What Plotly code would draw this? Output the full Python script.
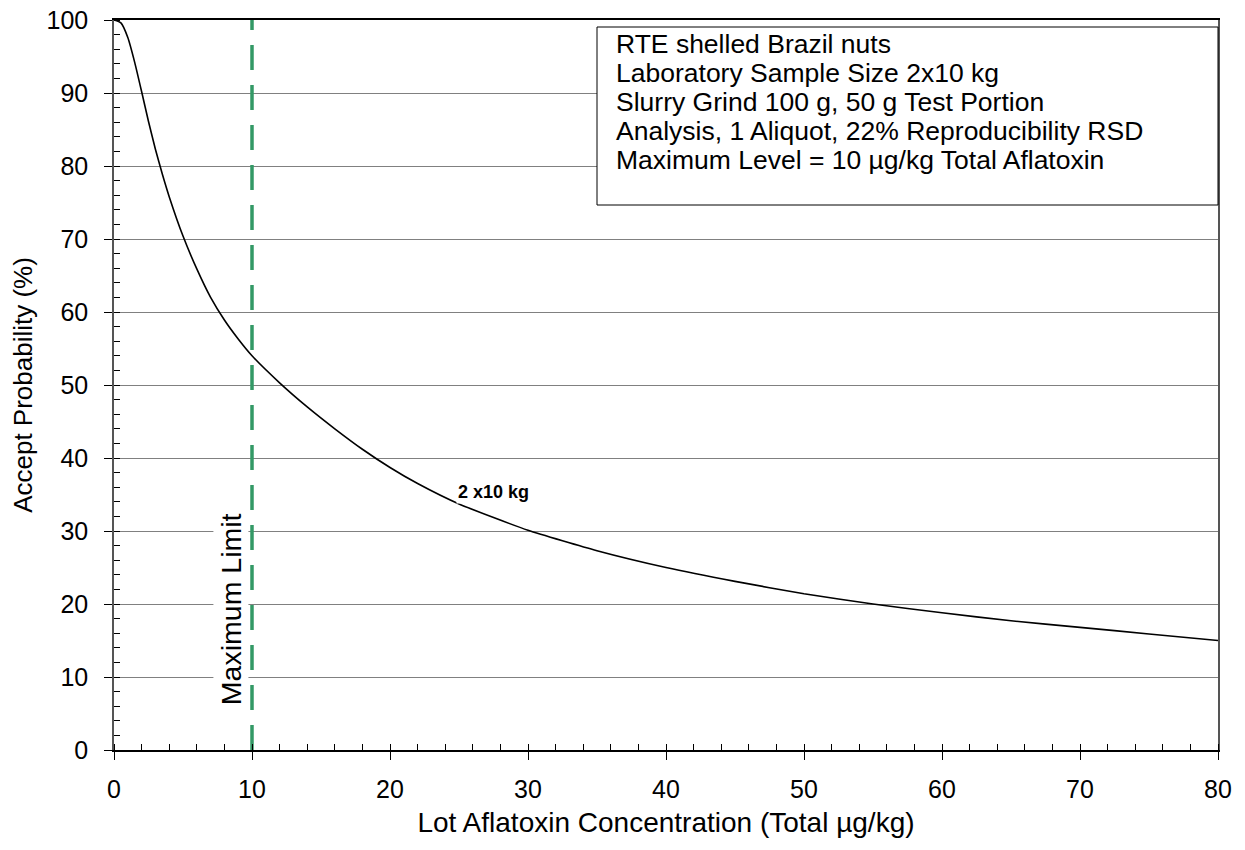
import plotly.graph_objects as go

conc = [0, 0.5, 1, 1.5, 2, 2.5, 3, 3.5, 4, 5, 6, 7, 8, 9, 10, 12, 14, 16, 18, 20, 22, 25,
        30, 35, 40, 45, 50, 55, 60, 65, 70, 75, 80]
accept = [100, 99.6, 97.6, 94.2, 90.2, 86.1, 82.3, 78.9, 75.8, 70.4, 65.9, 62.0, 58.9, 56.3,
          54.0, 50.3, 47.0, 44.0, 41.2, 38.7, 36.5, 33.7, 30.1, 27.3, 25.0, 23.1, 21.4, 20.0,
          18.8, 17.7, 16.8, 15.9, 15.0]
max_limit = 10
x_ticks = [0, 10, 20, 30, 40, 50, 60, 70, 80]
y_ticks = [0, 10, 20, 30, 40, 50, 60, 70, 80, 90, 100]
info_lines = ["RTE shelled Brazil nuts",
              "Laboratory Sample Size 2x10 kg",
              "Slurry Grind 100 g, 50 g Test Portion",
              "Analysis, 1 Aliquot, 22% Reproducibility RSD",
              "Maximum Level = 10 µg/kg Total Aflatoxin"]

FONT = "Liberation Sans, Arial, sans-serif"
L, R, T, B = 114, 27, 20, 100
PW, PH = 1245 - L - R, 850 - T - B


def px_x(p):
    return (p - L) / PW


def px_y(p):
    return (850 - B - p) / PH


fig = go.Figure()
fig.add_trace(go.Scatter(x=conc, y=accept, mode="lines",
                         line=dict(color="black", width=1.6, shape="spline", smoothing=0.5),
                         showlegend=False, hoverinfo="skip"))
fig.add_trace(go.Scatter(x=[max_limit, max_limit], y=[0, 100], mode="lines",
                         line=dict(color="#339966", width=3.5, dash="25px,15px"),
                         showlegend=False, hoverinfo="skip"))

fig.add_annotation(x=27.5, y=35.3, text="<b>2 x10 kg</b>", showarrow=False,
                   font=dict(family=FONT, size=18, color="black"), bgcolor="white")
fig.add_annotation(x=8.48, y=19.3, text="Maximum Limit", showarrow=False, textangle=-90,
                   font=dict(family=FONT, size=28.5, color="black"), bgcolor="white")

fig.add_shape(type="rect", xref="paper", yref="paper", x0=px_x(597), x1=1.0,
              y0=px_y(205), y1=px_y(27), line=dict(color="black", width=1),
              fillcolor="white", layer="above")
for i, line in enumerate(info_lines):
    fig.add_annotation(xref="paper", yref="paper", x=px_x(614), y=px_y(44 + 29 * i),
                       xanchor="left", yanchor="middle", align="left", showarrow=False,
                       text=line, font=dict(family=FONT, size=26.5, color="black"))

fig.update_layout(
    width=1245, height=850,
    margin=dict(l=L, r=R, t=T, b=B),
    plot_bgcolor="white", paper_bgcolor="white",
    font=dict(family=FONT, size=24, color="black"),
    xaxis=dict(range=[0, 80], tickvals=x_ticks, ticks="outside", ticklen=8, tickcolor="black",
               showgrid=False, zeroline=False, showline=True, linecolor="black", linewidth=2,
               mirror=True, automargin=False, ticklabelstandoff=8,
               minor=dict(dtick=2, ticks="inside", ticklen=6, tickcolor="black"),
               title=dict(text="Lot Aflatoxin Concentration (Total µg/kg)", font=dict(size=28),
                          standoff=10),
               tickfont=dict(size=25)),
    yaxis=dict(range=[0, 100], tickvals=y_ticks, ticks="outside", ticklen=8, tickcolor="black",
               showgrid=True, gridcolor="#808080", gridwidth=1.2, zeroline=False,
               showline=True, linecolor="#555555", linewidth=1.5, mirror=True,
               automargin=False, ticklabelstandoff=11,
               minor=dict(dtick=2, ticks="inside", ticklen=6, tickcolor="black"),
               title=dict(text="Accept Probability (%)", font=dict(size=26), standoff=6),
               tickfont=dict(size=25)),
)
fig.write_html("out.html")
